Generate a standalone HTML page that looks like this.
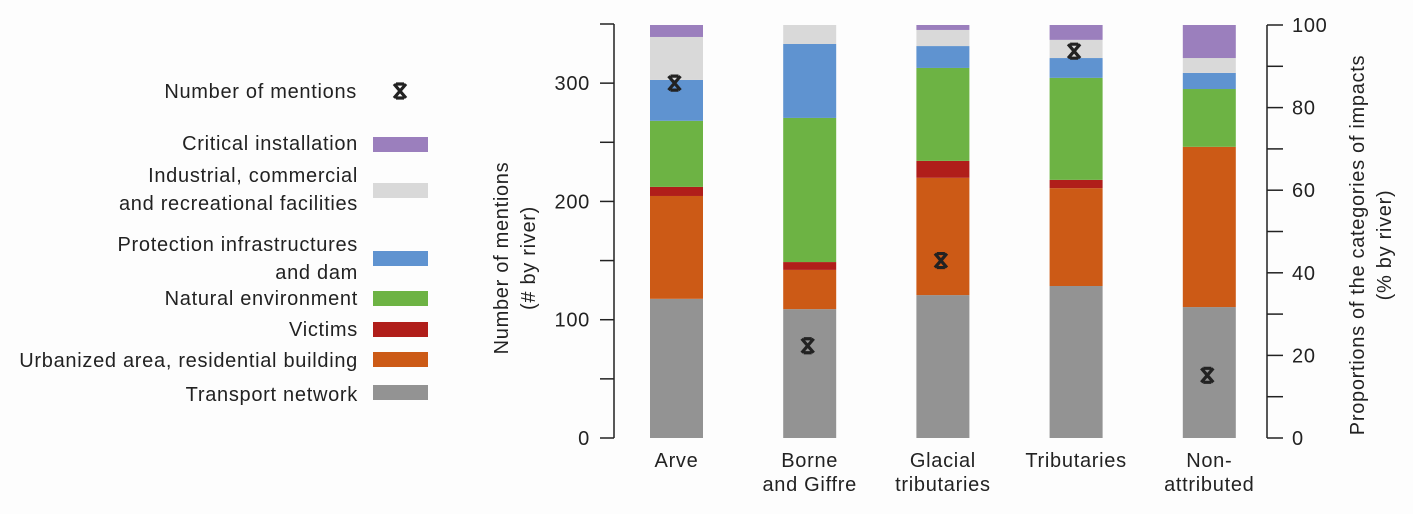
<!DOCTYPE html>
<html><head><meta charset="utf-8"><style>
html,body{margin:0;padding:0;background:#fff;}
svg text{font-family:"Liberation Sans",sans-serif;fill:#222;letter-spacing:0.7px;}
</style></head><body>
<svg id="chart" width="1413" height="514" viewBox="0 0 1413 514" xmlns="http://www.w3.org/2000/svg">
<rect x="0" y="0" width="1413" height="514" fill="#fdfdfd"/>
<g id="legend"></g>
<g id="axes"></g>
<g id="bars"></g>
<g id="markers"></g>
<text transform="translate(508,258) rotate(-90)" text-anchor="middle" font-size="20"><tspan x="0" dy="0">Number of mentions</tspan><tspan x="0" dy="27">(# by river)</tspan></text>
<text transform="translate(1364,245) rotate(-90)" text-anchor="middle" font-size="20"><tspan x="0" dy="0">Proportions of the categories of impacts</tspan><tspan x="0" dy="27">(%  by river)</tspan></text>
</svg>
<script>
const categories = [["Arve"],["Borne","and Giffre"],["Glacial","tributaries"],["Tributaries"],["Non-","attributed"]];
const seriesNames = ["Transport network","Urbanized area, residential building","Victims","Natural environment","Protection infrastructures and dam","Industrial, commercial and recreational facilities","Critical installation"];
const transport = [33.7,31.2,34.6,36.8,31.7];
const urban = [24.9,9.5,28.4,23.7,38.8];
const victims = [2.2,1.9,4.1,2.0,0];
const natural = [16.0,34.9,22.5,24.7,14.0];
const protection = [9.9,17.9,5.3,4.8,3.9];
const industrial = [10.4,4.6,3.9,4.4,3.6];
const critical = [2.9,0,1.2,3.6,8.0];
const mentions = [300,78,150,327,53];
const leftTicks = [0,100,200,300];
const rightTicks = [0,20,40,60,80,100];

const NS="http://www.w3.org/2000/svg";
const colors=["#939393","#cc5a16","#b01e1a","#6db344","#5f93d0","#d9d9d9","#9b7fbd"];
const series=[transport,urban,victims,natural,protection,industrial,critical];
const y0=438, yTop=25;
function yPct(v){return y0-(y0-yTop)*v/100;}
function yCount(v){return y0-(y0-24)*v/350;}
function xBar(i){return 650+i*133.2;}
const bw=53;
function mk(tag,attrs,parent){const e=document.createElementNS(NS,tag);for(const k in attrs)e.setAttribute(k,attrs[k]);parent.appendChild(e);return e;}
const axes=document.getElementById('axes'),bars=document.getElementById('bars'),markers=document.getElementById('markers'),legend=document.getElementById('legend');
let l=mk('line',{x1:614,y1:24,x2:614,y2:438,stroke:'#222','stroke-width':1.5},axes);


for(let v=0;v<=350;v+=50){let t=mk('line',{x1:600,x2:614,y1:yCount(v),y2:yCount(v),stroke:'#222','stroke-width':1.5},axes);

}
leftTicks.forEach(v=>{let t=mk('text',{x:590,y:yCount(v)+7,'text-anchor':'end','font-size':20},axes);t.textContent=v;

});
l=mk('line',{x1:1267,y1:25,x2:1267,y2:438,stroke:'#222','stroke-width':1.5},axes);


for(let v=0;v<=100;v+=10){let t=mk('line',{x1:1267,x2:1283,y1:yPct(v),y2:yPct(v),stroke:'#222','stroke-width':1.5},axes);

}
rightTicks.forEach(v=>{let t=mk('text',{x:1292,y:yPct(v)+7,'font-size':20},axes);t.textContent=v;

});
categories.forEach((c,i)=>{let acc=0;const x=xBar(i);
 series.forEach((s,k)=>{const v=s[i];if(v>0){const r=mk('rect',{x:x,y:yPct(acc+v),width:bw,height:yPct(acc)-yPct(acc+v),fill:colors[k]},bars);
 
 }acc+=v;});
 const t=mk('text',{x:x+bw/2,y:467,'text-anchor':'middle','font-size':20},axes);
 
 
 c.forEach((ln,j)=>{const ts=mk('tspan',{x:x+bw/2,dy:j?24:0},t);ts.textContent=ln;});
 const mx=x+bw/2-2,my=yCount(mentions[i]);
 const g=mk('g',{stroke:'#222','stroke-width':3.2},markers);
 
 
 mk('path',{d:`M${mx-6} ${my-7}L${mx+6} ${my+7}M${mx+6} ${my-7}L${mx-6} ${my+7}M${mx-4} ${my-7}H${mx+4}M${mx-4} ${my+7}H${mx+4}`},g);
});
const legItems=[{lines:["Critical installation"],ty:[150],sy:137,c:6},
{lines:["Industrial, commercial","and recreational facilities"],ty:[182,210],sy:183,c:5},
{lines:["Protection infrastructures","and dam"],ty:[251,279],sy:251,c:4},
{lines:["Natural environment"],ty:[305],sy:291,c:3},
{lines:["Victims"],ty:[336],sy:322,c:2},
{lines:["Urbanized area, residential building"],ty:[367],sy:352,c:1},
{lines:["Transport network"],ty:[401],sy:385,c:0}];
let t=mk('text',{x:357,y:98,'text-anchor':'end','font-size':20},legend);t.textContent="Number of mentions";


const g=mk('g',{stroke:'#222','stroke-width':3.2},legend);


mk('path',{d:'M394 84L406 98M406 84L394 98M396 84H404M396 98H404'},g);
legItems.forEach(it=>{const r=mk('rect',{x:373,y:it.sy,width:55,height:15,fill:colors[it.c]},legend);


it.lines.forEach((ln,j)=>{const tt=mk('text',{x:358,y:it.ty[j],'text-anchor':'end','font-size':20},legend);tt.textContent=ln;

});});
</script>
</body></html>
